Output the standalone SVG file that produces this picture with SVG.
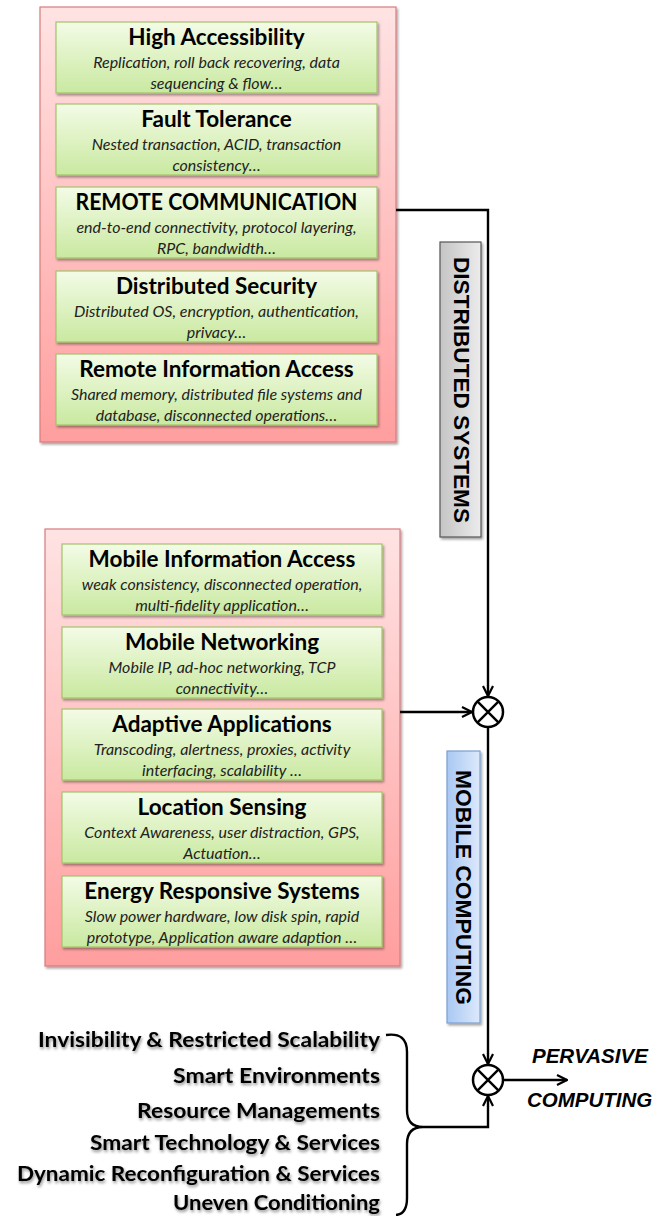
<svg xmlns="http://www.w3.org/2000/svg" width="670" height="1216" viewBox="0 0 670 1216">
<defs>
<linearGradient id="gRed" x1="0" y1="0" x2="0" y2="1"><stop offset="0" stop-color="#ffe3e3"/><stop offset="1" stop-color="#ff9e9e"/></linearGradient>
<linearGradient id="gGreen" x1="0" y1="0" x2="0" y2="1"><stop offset="0" stop-color="#f3fbe6"/><stop offset="1" stop-color="#c9e9a0"/></linearGradient>
<linearGradient id="gGray" x1="0" y1="0" x2="1" y2="0"><stop offset="0" stop-color="#c4c4c4"/><stop offset="1" stop-color="#ececec"/></linearGradient>
<linearGradient id="gBlue" x1="0" y1="0" x2="1" y2="0"><stop offset="0" stop-color="#a9c8f2"/><stop offset="1" stop-color="#dde9fb"/></linearGradient>
<filter id="sh" x="-5%" y="-5%" width="115%" height="115%"><feDropShadow dx="1.5" dy="2" stdDeviation="1.2" flood-color="#000" flood-opacity="0.35"/></filter>
<filter id="tsh" x="-5%" y="-20%" width="115%" height="150%"><feDropShadow dx="1" dy="2" stdDeviation="1.5" flood-color="#000" flood-opacity="0.45"/></filter>
<marker id="arr" viewBox="0 0 12 12" refX="11" refY="6" markerWidth="12" markerHeight="12" markerUnits="userSpaceOnUse" orient="auto"><path d="M1,1 L11,6 L1,11" fill="none" stroke="#000" stroke-width="2.2"/></marker>
</defs>
<style>
.red{fill:url(#gRed);stroke:#d77c7c;stroke-width:1.2;filter:url(#sh)}
.grn{fill:url(#gGreen);stroke:#a3c46c;stroke-width:1.2;filter:url(#sh)}
.tt{font-family:Lato,"Open Sans",sans-serif;font-weight:bold;font-size:22.5px;fill:#000;text-anchor:middle}
.st{font-family:Lato,"Open Sans",sans-serif;font-style:italic;font-size:16px;fill:#222;text-anchor:middle}
.side{font-family:"Liberation Sans",Arial,sans-serif;font-weight:bold;font-size:22px;fill:#000;text-anchor:middle;dominant-baseline:central}
.bl{font-family:Lato,"Open Sans",sans-serif;font-weight:bold;font-size:21.5px;fill:#000;text-anchor:end;filter:url(#tsh)}
.pc{font-family:"Liberation Sans",Arial,sans-serif;font-weight:bold;font-style:italic;font-size:20.5px;fill:#000}
.ln{fill:none;stroke:#000;stroke-width:2.4}
.cir{fill:#fff;stroke:#000;stroke-width:2.5}
</style>

<g id="distributed-group">
<rect class="red" x="40" y="7" width="356" height="435"/>
</g>
<g id="high-accessibility">
<rect class="grn" x="56" y="22" width="321" height="71"/>
<text class="tt" x="216.5" y="45">High Accessibility</text>
<text class="st" x="216.5" y="68">Replication, roll back recovering, data</text>
<text class="st" x="216.5" y="89">sequencing &amp; flow…</text>
</g>
<g id="fault-tolerance">
<rect class="grn" x="56" y="104" width="321" height="71"/>
<text class="tt" x="216.5" y="127">Fault Tolerance</text>
<text class="st" x="216.5" y="150">Nested transaction, ACID, transaction</text>
<text class="st" x="216.5" y="171">consistency…</text>
</g>
<g id="remote-communication">
<rect class="grn" x="56" y="187" width="321" height="71"/>
<text class="tt" x="216.5" y="210" textLength="282" lengthAdjust="spacingAndGlyphs">REMOTE COMMUNICATION</text>
<text class="st" x="216.5" y="233">end-to-end connectivity, protocol layering,</text>
<text class="st" x="216.5" y="254">RPC, bandwidth…</text>
</g>
<g id="distributed-security">
<rect class="grn" x="56" y="271" width="321" height="71"/>
<text class="tt" x="216.5" y="294">Distributed Security</text>
<text class="st" x="216.5" y="317">Distributed OS, encryption, authentication,</text>
<text class="st" x="216.5" y="338">privacy…</text>
</g>
<g id="remote-information-access">
<rect class="grn" x="56" y="354" width="321" height="71"/>
<text class="tt" x="216.5" y="377">Remote Information Access</text>
<text class="st" x="216.5" y="400">Shared memory, distributed file systems and</text>
<text class="st" x="216.5" y="421">database, disconnected operations…</text>
</g>

<g id="mobile-group">
<rect class="red" x="45" y="529" width="355" height="437"/>
</g>
<g id="mobile-information-access">
<rect class="grn" x="62" y="544" width="320" height="71"/>
<text class="tt" x="222" y="567">Mobile Information Access</text>
<text class="st" x="222" y="590">weak consistency, disconnected operation,</text>
<text class="st" x="222" y="611">multi-fidelity application…</text>
</g>
<g id="mobile-networking">
<rect class="grn" x="62" y="627" width="320" height="71"/>
<text class="tt" x="222" y="650">Mobile Networking</text>
<text class="st" x="222" y="673">Mobile IP, ad-hoc networking, TCP</text>
<text class="st" x="222" y="694">connectivity…</text>
</g>
<g id="adaptive-applications">
<rect class="grn" x="62" y="709" width="320" height="71"/>
<text class="tt" x="222" y="732">Adaptive Applications</text>
<text class="st" x="222" y="755">Transcoding, alertness, proxies, activity</text>
<text class="st" x="222" y="776">interfacing, scalability …</text>
</g>
<g id="location-sensing">
<rect class="grn" x="62" y="792" width="320" height="71"/>
<text class="tt" x="222" y="815">Location Sensing</text>
<text class="st" x="222" y="838">Context Awareness, user distraction, GPS,</text>
<text class="st" x="222" y="859">Actuation…</text>
</g>
<g id="energy-responsive-systems">
<rect class="grn" x="62" y="876" width="320" height="71"/>
<text class="tt" x="222" y="899">Energy Responsive Systems</text>
<text class="st" x="222" y="922">Slow power hardware, low disk spin, rapid</text>
<text class="st" x="222" y="943">prototype, Application aware adaption …</text>
</g>

<g id="distributed-systems-label">
<rect x="440" y="242" width="41" height="295" fill="url(#gGray)" stroke="#555" stroke-width="1.2" filter="url(#sh)"/>
<text class="side" transform="translate(461,390) rotate(90)" textLength="266" lengthAdjust="spacingAndGlyphs">DISTRIBUTED SYSTEMS</text>
</g>
<g id="mobile-computing-label">
<rect x="447" y="751" width="33" height="272" fill="url(#gBlue)" stroke="#7d9fd0" stroke-width="1.2" filter="url(#sh)"/>
<text class="side" transform="translate(463,887.5) rotate(90)" textLength="235" lengthAdjust="spacingAndGlyphs">MOBILE COMPUTING</text>
</g>

<g id="combiner-1">
<circle class="cir" cx="488" cy="712" r="15"/>
<path class="ln" d="M477.4,701.4 L498.6,722.6 M498.6,701.4 L477.4,722.6"/>
</g>
<g id="combiner-2">
<circle class="cir" cx="488" cy="1080" r="15"/>
<path class="ln" d="M477.4,1069.4 L498.6,1090.6 M498.6,1069.4 L477.4,1090.6"/>
</g>

<g id="pervasive-computing">
<text class="pc" x="532" y="1063">PERVASIVE</text>
<text class="pc" x="527" y="1107">COMPUTING</text>
</g>

<g id="pervasive-factors">
<text class="bl" x="380" y="1047" textLength="342" lengthAdjust="spacingAndGlyphs">Invisibility &amp; Restricted Scalability</text>
<text class="bl" x="380" y="1083" textLength="207" lengthAdjust="spacingAndGlyphs">Smart Environments</text>
<text class="bl" x="380" y="1118" textLength="243" lengthAdjust="spacingAndGlyphs">Resource Managements</text>
<text class="bl" x="380" y="1150" textLength="290" lengthAdjust="spacingAndGlyphs">Smart Technology &amp; Services</text>
<text class="bl" x="380" y="1181" textLength="363" lengthAdjust="spacingAndGlyphs">Dynamic Reconfiguration &amp; Services</text>
<text class="bl" x="380" y="1210" textLength="207" lengthAdjust="spacingAndGlyphs">Uneven Conditioning</text>
</g>

<g id="connectors">
<path class="ln" d="M396,210 H488 V696" marker-end="url(#arr)"/>
<path class="ln" d="M400,712 H472" marker-end="url(#arr)"/>
<path class="ln" d="M488,727 V1064" marker-end="url(#arr)"/>
<path class="ln" d="M423,1127 H488 V1096" marker-end="url(#arr)"/>
<path class="ln" d="M503,1080 H567" marker-end="url(#arr)"/>
<path class="ln" d="M386,1035 Q407,1032 407,1052 V1110 Q407,1127 423,1127 Q407,1127 407,1144 V1198 Q407,1214 396,1215"/>
</g>
</svg>
